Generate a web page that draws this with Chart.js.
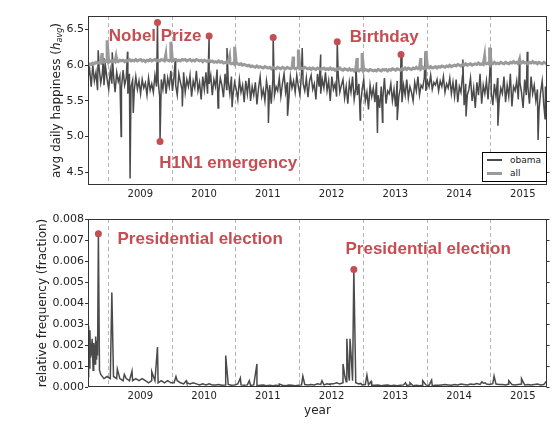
<!DOCTYPE html>
<html lang="en">
<head>
<meta charset="UTF-8">
<title>Obama: happiness and relative frequency</title>
<script src="https://cdn.jsdelivr.net/npm/chart.js"></script>
<style>
body {
margin: 0;
background: #fff;
font-family: "DejaVu Sans", sans-serif;
}
.wrap {
position: relative;
width: 552px;
height: 430px;
}
canvas {
position: absolute;
left: 0;
}
#topChart { top: 0; }
#bottomChart { top: 205px; }
.legend {
position: absolute;
left: 482px;
top: 152px;
width: 63px;
height: 28px;
border: 1px solid #000;
background: #fff;
font-size: 9px;
color: #222;
}
.legend .swatch {
position: absolute;
left: 4px;
width: 15px;
}
.legend .label {
position: absolute;
left: 27px;
line-height: 12px;
}
</style>
</head>
<body>

<div class="wrap">
<canvas id="topChart" width="552" height="205"></canvas>
<canvas id="bottomChart" width="552" height="225"></canvas>
<div class="legend">
<div class="swatch" style="top:6px;height:1.5px;background:#4a4a4a"></div>
<div class="label" style="top:1px">obama</div>
<div class="swatch" style="top:19px;height:3px;background:#9a9a9a"></div>
<div class="label" style="top:14px">all</div>
</div>
</div>

<script>
const FONT = '"DejaVu Sans", sans-serif';
const RED = '#c44e52';

// x range in decimal years
const X_MIN = 2008.68;
const X_MAX = 2015.88;
const yearLines = [2009, 2010, 2011, 2012, 2013, 2014, 2015];

const happyTicks = [4.5, 5.0, 5.5, 6.0, 6.5];
const freqTicks = [0, 0.001, 0.002, 0.003, 0.004, 0.005, 0.006, 0.007, 0.008];

// obama happiness, sampled every 0.025 yr from 2008.68
const OBAMA_START = 2008.68;
const OBAMA_STEP = 0.025;
const obamaBase = [
5.82, 5.95, 5.70, 6.00, 5.78, 5.90, 5.65, 5.96, 5.75, 5.88,
5.72, 5.98, 5.80, 5.66, 5.92, 5.74, 5.86, 5.62, 5.90, 5.77,
5.85, 5.68, 5.93, 5.72, 5.82, 5.60, 5.88, 5.70, 5.79, 5.64,
5.84, 5.66, 5.78, 5.60, 5.80, 5.68, 5.75, 5.58, 5.82, 5.65,
5.74, 5.62, 5.86, 5.70, 5.78, 5.55, 5.80, 5.66, 5.88, 5.60,
5.82, 5.70, 5.92, 5.64, 5.85, 5.72, 5.58, 5.88, 5.76, 5.66,
5.90, 5.62, 5.80, 5.70, 5.86, 5.56, 5.78, 5.68, 5.92, 5.64,
5.76, 5.52, 5.84, 5.66, 5.90, 5.60, 5.74, 5.86, 5.58, 5.80,
5.70, 5.94, 5.62, 5.82, 5.72, 5.55, 5.88, 5.66, 5.78, 5.60,
5.84, 5.58, 5.76, 5.66, 5.52, 5.80, 5.62, 5.72, 5.48, 5.78,
5.60, 5.82, 5.50, 5.70, 5.58, 5.76, 5.45, 5.68, 5.84, 5.56,
5.66, 5.50, 5.78, 5.62, 5.72, 5.46, 5.80, 5.58, 5.70, 5.64,
5.82, 5.56, 5.74, 5.88, 5.62, 5.76, 5.52, 5.84, 5.68, 5.78,
5.62, 5.86, 5.70, 5.58, 5.90, 5.74, 5.64, 5.82, 5.55, 5.78,
5.86, 5.66, 5.74, 5.52, 5.88, 5.70, 5.60, 5.80, 5.68, 5.90,
5.64, 5.78, 5.50, 5.84, 5.66, 5.74, 5.56, 5.86, 5.62, 5.72,
5.80, 5.54, 5.70, 5.46, 5.76, 5.62, 5.84, 5.52, 5.68, 5.58,
5.74, 5.44, 5.66, 5.80, 5.50, 5.62, 5.38, 5.72, 5.56, 5.68,
5.48, 5.76, 5.58, 5.40, 5.70, 5.54, 5.82, 5.46, 5.64, 5.60,
5.74, 5.50, 5.66, 5.42, 5.78, 5.56, 5.68, 5.48, 5.72, 5.58,
5.80, 5.54, 5.70, 5.62, 5.50, 5.76, 5.64, 5.84, 5.58, 5.72,
5.68, 5.82, 5.64, 5.78, 5.70, 5.86, 5.66, 5.76, 5.72, 5.80,
5.64, 5.78, 5.70, 5.84, 5.62, 5.74, 5.68, 5.82, 5.60, 5.76,
5.56, 5.80, 5.48, 5.70, 5.62, 5.86, 5.44, 5.74, 5.58, 5.66,
5.82, 5.50, 5.68, 5.40, 5.76, 5.58, 5.88, 5.46, 5.72, 5.60,
5.78, 5.52, 5.86, 5.62, 5.44, 5.74, 5.56, 5.82, 5.50, 5.68,
5.60, 5.84, 5.48, 5.72, 5.56, 5.88, 5.42, 5.70, 5.64, 5.78,
5.52, 5.76, 5.62, 5.40, 5.80, 5.58, 5.70, 5.46, 5.84, 5.60,
5.72, 5.50, 5.66, 5.38, 5.62, 5.78, 5.44, 5.70, 5.56
];
// single-day spikes in the obama series
const obamaSpikeX = [2008.84, 2008.92, 2009.06, 2009.20, 2009.30, 2009.34, 2009.39, 2010.05, 2010.16, 2010.72,
2010.86, 2010.94, 2011.51, 2011.81, 2012.04, 2012.33, 2012.88, 2012.95, 2013.22, 2013.30,
2013.53, 2013.97, 2014.56, 2014.61, 2015.00, 2015.11, 2015.45, 2015.57, 2015.74, 2015.85];
const obamaSpikeY = [6.21, 6.10, 6.18, 5.00, 6.19, 4.41, 5.33, 6.10, 5.42, 5.40,
6.24, 5.41, 5.19, 5.29, 6.24, 6.15, 6.05, 5.23, 5.05, 5.20,
5.23, 6.18, 6.08, 5.28, 6.24, 5.15, 6.10, 6.19, 4.95, 5.25];
// marked events: Nobel Prize, H1N1 emergency, birthdays
const eventX = [2009.77, 2009.81, 2010.58, 2011.585, 2012.59, 2013.59];
const eventY = [6.60, 4.93, 6.41, 6.39, 6.33, 6.15];

// all tweets happiness, every 0.025 yr from 2008.68
const ALL_START = 2008.68;
const ALL_STEP = 0.025;
const allBase = [
6.01, 6.02, 6.01, 6.03, 6.02, 6.04, 6.03, 6.04, 6.03, 6.05,
6.04, 6.06, 6.05, 6.04, 6.06, 6.05, 6.07, 6.05, 6.06, 6.05,
6.07, 6.06, 6.07, 6.05, 6.07, 6.06, 6.08, 6.06, 6.07, 6.06,
6.08, 6.06, 6.07, 6.08, 6.06, 6.07, 6.05, 6.07, 6.06, 6.08,
6.06, 6.07, 6.08, 6.06, 6.07, 6.06, 6.08, 6.07, 6.06, 6.08,
6.07, 6.06, 6.08, 6.06, 6.07, 6.08, 6.06, 6.07, 6.06, 6.08,
6.07, 6.08, 6.06, 6.07, 6.08, 6.06, 6.07, 6.06, 6.08, 6.07,
6.06, 6.07, 6.05, 6.07, 6.06, 6.05, 6.07, 6.05, 6.06, 6.04,
6.05, 6.04, 6.06, 6.04, 6.05, 6.03, 6.04, 6.03, 6.05, 6.03,
6.02, 6.03, 6.01, 6.03, 6.02, 6.01, 6.02, 6.00, 6.01, 6.00,
5.99, 6.00, 5.98, 5.99, 5.98, 5.97, 5.99, 5.97, 5.98, 5.97,
5.96, 5.98, 5.97, 5.96, 5.97, 5.95, 5.97, 5.96, 5.95, 5.97,
5.96, 5.95, 5.97, 5.96, 5.95, 5.97, 5.96, 5.95, 5.96, 5.97,
5.95, 5.96, 5.97, 5.95, 5.96, 5.95, 5.97, 5.96, 5.95, 5.96,
5.94, 5.96, 5.95, 5.94, 5.96, 5.95, 5.94, 5.95, 5.96, 5.94,
5.95, 5.94, 5.96, 5.94, 5.95, 5.93, 5.95, 5.94, 5.96, 5.94,
5.93, 5.95, 5.94, 5.93, 5.95, 5.93, 5.94, 5.92, 5.94, 5.93,
5.92, 5.94, 5.93, 5.92, 5.94, 5.93, 5.92, 5.94, 5.93, 5.92,
5.93, 5.92, 5.94, 5.93, 5.92, 5.94, 5.93, 5.94, 5.92, 5.94,
5.93, 5.95, 5.94, 5.93, 5.95, 5.94, 5.93, 5.95, 5.94, 5.96,
5.94, 5.96, 5.95, 5.94, 5.96, 5.95, 5.97, 5.95, 5.96, 5.95,
5.97, 5.95, 5.96, 5.97, 5.96, 5.98, 5.96, 5.97, 5.98, 5.96,
5.98, 5.97, 5.99, 5.98, 5.97, 5.99, 5.98, 6.00, 5.98, 5.99,
6.00, 5.99, 6.01, 6.00, 5.99, 6.01, 6.00, 6.02, 6.00, 6.01,
6.02, 6.00, 6.01, 6.02, 6.01, 6.03, 6.01, 6.02, 6.01, 6.03,
6.02, 6.03, 6.01, 6.03, 6.02, 6.04, 6.02, 6.03, 6.02, 6.04,
6.03, 6.02, 6.04, 6.03, 6.02, 6.04, 6.03, 6.05, 6.03, 6.04,
6.02, 6.04, 6.03, 6.05, 6.03, 6.04, 6.02, 6.04, 6.03, 6.05,
6.03, 6.04, 6.02, 6.04, 6.03, 6.02, 6.04, 6.03, 6.02
];
const allSpikeX = [2008.90, 2008.98, 2009.12, 2009.90, 2009.98, 2010.90, 2010.98, 2011.90,
2011.98, 2012.90, 2012.98, 2013.90, 2013.98, 2014.90, 2014.98, 2015.45];
const allSpikeY = [6.17, 6.35, 6.12, 6.15, 6.33, 6.12, 6.26, 6.12,
6.22, 6.10, 6.17, 6.10, 6.20, 6.12, 6.25, 6.08];

// relative frequency of "obama", every 0.05 yr from 2008.68
const FREQ_START = 2008.68;
const FREQ_STEP = 0.05;
const freqBase = [
0.0005, 0.0016, 0.0019, 0.0015, 0.0006, 0.0004, 0.0005, 0.0004, 0.0005, 0.0004,
0.0004, 0.0003, 0.0004, 0.0003, 0.0003, 0.0004, 0.0003, 0.0004, 0.0003, 0.0002,
0.0003, 0.0003, 0.0002, 0.0003, 0.0002, 0.0003, 0.0002, 0.0002, 0.0003, 0.0002,
0.00015, 0.0002, 0.00015, 0.0002, 0.00015, 0.0001, 0.00015, 0.0001, 0.00015, 0.0001,
0.0001, 0.00012, 0.00008, 0.0001, 0.00012, 0.00008, 0.0001, 0.00015, 0.0001, 0.00008,
0.0001, 0.00008, 0.0001, 0.00006, 0.00008, 0.0001, 0.00006, 0.00008, 0.00006, 0.00008,
0.00006, 0.00008, 0.00006, 0.0001, 0.00008, 0.00006, 0.00008, 0.0001, 0.00012, 0.0001,
0.00012, 0.0001, 0.00015, 0.00012, 0.0001, 0.00015, 0.00012, 0.00015, 0.0002, 0.00015,
0.0002, 0.00025, 0.0003, 0.0003, 0.0002, 0.00015, 0.0001, 0.00012, 0.0001, 0.00008,
0.00008, 0.0001, 0.00006, 0.00008, 0.0001, 0.00006, 0.00008, 0.00006, 0.00008, 0.0001,
0.00008, 0.0001, 0.00006, 0.00008, 0.00006, 0.00008, 0.0001, 0.00008, 0.00006, 0.00008,
0.00008, 0.0001, 0.00012, 0.0001, 0.00008, 0.00012, 0.0001, 0.00014, 0.00012, 0.0001,
0.00014, 0.00012, 0.00016, 0.00012, 0.00018, 0.00014, 0.00012, 0.00016, 0.00014, 0.00012,
0.00012, 0.0001, 0.00014, 0.00012, 0.0001, 0.00012, 0.00014, 0.0001, 0.00012, 0.0001,
0.00012, 0.00014, 0.0001, 0.00012, 0.00016
];
const freqSpikeX = [2008.69, 2008.70, 2008.71, 2008.72, 2008.745, 2008.76, 2008.77, 2008.79, 2008.80, 2008.815,
2008.825, 2008.86, 2009.054, 2009.14, 2009.25, 2009.37, 2009.68, 2009.77, 2010.06, 2010.22,
2010.84, 2011.07, 2011.21, 2011.33, 2011.68, 2012.05, 2012.35, 2012.48, 2012.68, 2012.71,
2012.74, 2012.77, 2012.79, 2012.81, 2012.96, 2013.055, 2013.12, 2013.66, 2013.73, 2013.93,
2014.07, 2014.86, 2014.91, 2015.05, 2015.28, 2015.48, 2015.87];
const freqSpikeY = [0.0029, 0.0009, 0.0027, 0.0014, 0.0023, 0.0008, 0.0021, 0.0011, 0.0024, 0.0013,
0.0022, 0.0008, 0.0045, 0.00085, 0.0006, 0.00076, 0.00073, 0.0019, 0.0005, 0.0003,
0.0015, 0.00043, 0.0003, 0.0011, 0.00014, 0.00052, 0.0003, 0.00014, 0.0011, 0.0005,
0.0023, 0.0005, 0.0023, 0.0014, 0.00017, 0.00057, 0.00027, 0.0002, 0.0002, 0.0003,
0.00033, 0.00025, 0.0002, 0.00052, 0.0003, 0.0004, 0.00027];
// presidential elections
const electionX = [2008.843, 2012.85];
const electionY = [0.0073, 0.0056];

const topNotes = [
{ text: 'Nobel Prize', x: 2009.733, y: 6.333 },
{ text: 'H1N1 emergency', x: 2010.878, y: 4.555 },
{ text: 'Birthday', x: 2013.326, y: 6.323 }
];
const bottomNotes = [
{ text: 'Presidential election', x: 2010.44, y: 0.00679 },
{ text: 'Presidential election', x: 2014.016, y: 0.00631 }
];

function mergeSeries(start, step, base, extraX, extraY) {
const pts = base.map((v, i) => ({ x: start + i * step, y: v }));
extraX.forEach((x, i) => pts.push({ x: x, y: extraY[i] }));
pts.sort((a, b) => a.x - b.x);
return pts;
}

const toPoints = (xs, ys) => xs.map((x, i) => ({ x: x, y: ys[i] }));

const xTickValues = yearLines.concat(yearLines.map(y => y + 0.5)).sort((a, b) => a - b);

const framePlugin = {
id: 'frame',
afterDraw(chart) {
const { ctx, chartArea: a, scales } = chart;
ctx.save();
ctx.strokeStyle = '#333';
ctx.lineWidth = 1;
const l = Math.round(a.left) + 0.5, t = Math.round(a.top) + 0.5;
const r = Math.round(a.right) - 0.5, b = Math.round(a.bottom) - 0.5;
ctx.strokeRect(l, t, r - l, b - t);
scales.y.ticks.forEach(tk => {
const py = Math.round(scales.y.getPixelForValue(tk.value)) + 0.5;
ctx.beginPath();
ctx.moveTo(r, py);
ctx.lineTo(r + 3, py);
ctx.stroke();
});
ctx.restore();
}
};

// y title of the top panel, with an italic subscript
const happyTitlePlugin = {
id: 'happyTitle',
afterDraw(chart) {
const { ctx, chartArea: a } = chart;
const parts = [
{ t: 'avg daily happiness (', f: '12px ' + FONT, dy: 0 },
{ t: 'h', f: 'italic 12px ' + FONT, dy: 0 },
{ t: 'avg', f: 'italic 8px ' + FONT, dy: 3 },
{ t: ')', f: '12px ' + FONT, dy: 0 }
];
ctx.save();
let total = 0;
parts.forEach(p => { ctx.font = p.f; p.w = ctx.measureText(p.t).width; total += p.w; });
ctx.translate(a.left - 31, (a.top + a.bottom) / 2);
ctx.rotate(-Math.PI / 2);
ctx.fillStyle = '#222';
ctx.textBaseline = 'middle';
ctx.textAlign = 'left';
let x = -total / 2;
parts.forEach(p => { ctx.font = p.f; ctx.fillText(p.t, x, p.dy); x += p.w; });
ctx.restore();
}
};

function notesPlugin(notes) {
return {
id: 'notes',
afterDatasetsDraw(chart) {
const { ctx, scales } = chart;
ctx.save();
ctx.fillStyle = RED;
ctx.font = 'bold 17px "Liberation Sans", Arial, sans-serif';
ctx.textAlign = 'center';
ctx.textBaseline = 'alphabetic';
notes.forEach(n => ctx.fillText(n.text, scales.x.getPixelForValue(n.x), scales.y.getPixelForValue(n.y)));
ctx.restore();
}
};
}

function yearAxis(height, withTitle) {
return {
type: 'linear',
min: X_MIN,
max: X_MAX,
afterBuildTicks: s => { s.ticks = xTickValues.map(v => ({ value: v })); },
afterFit: s => { s.height = height; },
ticks: {
autoSkip: false,
maxRotation: 0,
padding: 3,
color: '#222',
font: { family: FONT, size: 10 },
callback: v => Number.isInteger(v) ? '' : String(Math.floor(v))
},
grid: {
drawTicks: false,
lineWidth: 1,
color: c => (c.tick && Number.isInteger(c.tick.value)) ? '#b5b5b5' : 'rgba(0,0,0,0)'
},
border: { display: false, dash: [4, 3] },
title: {
display: withTitle,
text: 'year',
color: '#222',
font: { family: FONT, size: 12 },
padding: { top: 0, bottom: 12 }
}
};
}

function valueAxis(min, max, ticks, digits, title) {
return {
min: min,
max: max,
afterBuildTicks: s => { s.ticks = ticks.map(v => ({ value: v })); },
afterFit: s => { s.width = 88; },
ticks: {
padding: 1,
color: '#222',
font: { family: FONT, size: 11 },
callback: v => v.toFixed(digits)
},
grid: { drawOnChartArea: false, drawTicks: true, tickLength: 3, tickColor: '#333' },
border: { display: false },
title: {
display: !!title,
text: title || '',
color: '#222',
font: { family: FONT, size: 12 },
padding: { top: 36, bottom: 0 }
}
};
}

const baseOptions = (padTop, xAxis, yAxis) => ({
responsive: false,
animation: false,
devicePixelRatio: 1,
layout: { padding: { top: padTop, right: 5, left: 0, bottom: 0 } },
plugins: { legend: { display: false }, tooltip: { enabled: false } },
elements: { line: { tension: 0 } },
scales: { x: xAxis, y: yAxis }
});

new Chart(document.getElementById('topChart'), {
type: 'line',
data: {
datasets: [
{
label: 'events',
data: toPoints(eventX, eventY),
showLine: false,
pointRadius: 3.5,
pointBackgroundColor: RED,
pointBorderWidth: 0,
order: 0
},
{
label: 'all',
data: mergeSeries(ALL_START, ALL_STEP, allBase, allSpikeX, allSpikeY),
borderColor: '#9a9a9a',
borderWidth: 3,
pointRadius: 0,
order: 1
},
{
label: 'obama',
data: mergeSeries(OBAMA_START, OBAMA_STEP, obamaBase, obamaSpikeX.concat(eventX), obamaSpikeY.concat(eventY)),
borderColor: '#4a4a4a',
borderWidth: 1.5,
pointRadius: 0,
order: 2
}
]
},
options: baseOptions(16, yearAxis(20, false), valueAxis(4.32, 6.69, happyTicks, 1, null)),
plugins: [framePlugin, happyTitlePlugin, notesPlugin(topNotes)]
});

new Chart(document.getElementById('bottomChart'), {
type: 'line',
data: {
datasets: [
{
label: 'elections',
data: toPoints(electionX, electionY),
showLine: false,
pointRadius: 3.5,
pointBackgroundColor: RED,
pointBorderWidth: 0,
order: 0
},
{
label: 'obama frequency',
data: mergeSeries(FREQ_START, FREQ_STEP, freqBase, freqSpikeX.concat(electionX), freqSpikeY.concat(electionY)),
borderColor: '#4a4a4a',
borderWidth: 1.5,
pointRadius: 0,
order: 1
}
]
},
options: baseOptions(14, yearAxis(43, true), valueAxis(0, 0.008, freqTicks, 3, 'relative frequency (fraction)')),
plugins: [framePlugin, notesPlugin(bottomNotes)]
});
</script>

</body>
</html>
